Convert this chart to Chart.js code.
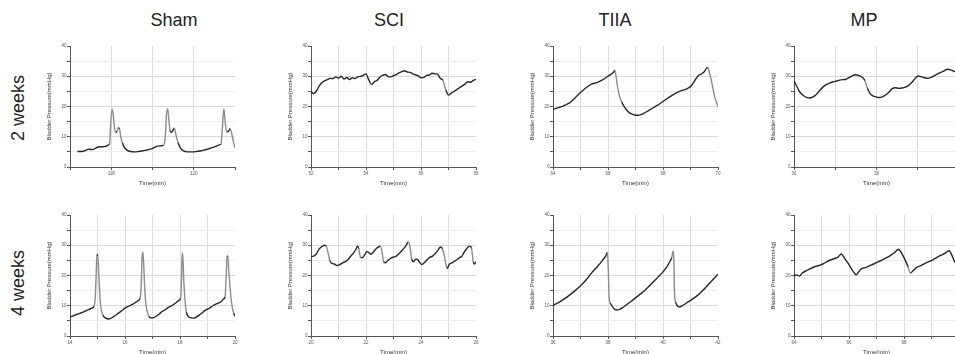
<!DOCTYPE html>
<html>
<head>
<meta charset="utf-8">
<script src="https://cdn.jsdelivr.net/npm/chart.js@4.4.0/dist/chart.umd.min.js"></script>
<style>
  html, body { margin: 0; padding: 0; width: 955px; height: 354px; overflow: hidden; background: #fff; }
  body { position: relative; font-family: 'Liberation Sans', Arial, sans-serif; }
  canvas { position: absolute; }
  .head { position: absolute; top: 10.5px; width: 100px; text-align: center; font-size: 18px; line-height: 18px; color: #222; }
  .row { position: absolute; font-size: 18px; line-height: 18px; color: #222; white-space: nowrap;
         transform: translate(-50%, -50%) rotate(-90deg); }
</style>
</head>
<body>
<div class="head" style="left:124px">Sham</div>
<div class="head" style="left:339px">SCI</div>
<div class="head" style="left:565px">TIIA</div>
<div class="head" style="left:814px">MP</div>
<div class="row" style="left:17.8px; top:107.5px">2 weeks</div>
<div class="row" style="left:17.8px; top:283px">4 weeks</div>

<script>
// tick labels
const yTicks = [0, 10, 20, 30, 40];
const groups = ['Sham', 'SCI', 'TIIA', 'MP'];

// Sham, 2 weeks
const shamW2Time = [
  117.18, 117.25, 117.32, 117.38, 117.45, 117.50, 117.56, 117.62, 117.68, 117.74,
  117.80, 117.86, 117.92, 117.96, 117.99, 118.02, 118.05, 118.08, 118.11, 118.14,
  118.17, 118.20, 118.23, 118.27, 118.32, 118.38, 118.45, 118.55, 118.65, 118.75,
  118.85, 118.95, 119.05, 119.12, 119.20, 119.27, 119.31, 119.34, 119.37, 119.40,
  119.43, 119.46, 119.50, 119.53, 119.57, 119.62, 119.68, 119.75, 119.85, 119.95,
  120.05, 120.15, 120.25, 120.35, 120.45, 120.55, 120.62, 120.66, 120.69, 120.73,
  120.76, 120.80, 120.84, 120.88, 120.92, 120.96, 121.00
];
const shamW2Pressure = [
  5.1, 5.1, 5.2, 5.5, 5.9, 5.8, 5.8, 6.2, 6.6, 6.7,
  6.7, 6.8, 7.2, 7.8, 15.0, 19.2, 17.0, 13.0, 11.4, 11.8,
  13.0, 12.6, 10.0, 8.0, 6.4, 5.6, 5.2, 5.0, 5.1, 5.3,
  5.6, 5.9, 6.5, 6.9, 7.0, 7.3, 10.0, 17.5, 19.3, 15.0,
  12.0, 11.5, 12.2, 12.8, 10.5, 8.0, 6.2, 5.3, 5.0, 5.0,
  5.1, 5.3, 5.6, 6.0, 6.4, 6.9, 7.3, 7.6, 12.0, 19.3,
  15.0, 11.6, 11.8, 12.7, 11.0, 8.5, 6.3
];

// SCI, 2 weeks
const sciW2Time = [
  52.0, 52.1, 52.2, 52.3, 52.4, 52.5, 52.6, 52.7, 52.8, 52.9,
  53.0, 53.1, 53.2, 53.3, 53.4, 53.5, 53.6, 53.7, 53.8, 53.9,
  54.0, 54.1, 54.2, 54.3, 54.4, 54.5, 54.6, 54.7, 54.8, 54.9,
  55.0, 55.1, 55.2, 55.3, 55.4, 55.5, 55.6, 55.7, 55.8, 55.9,
  56.0, 56.1, 56.2, 56.3, 56.4, 56.5, 56.6, 56.7, 56.8, 56.9,
  57.0, 57.1, 57.2, 57.3, 57.4, 57.5, 57.6, 57.7, 57.8, 57.9,
  58.0
];
const sciW2Pressure = [
  24.8, 24.3, 25.2, 26.8, 27.9, 28.5, 28.9, 29.3, 29.2, 29.8,
  29.4, 30.0, 29.1, 29.6, 28.9, 29.5, 29.2, 29.8, 29.9, 30.3,
  30.8, 28.8, 27.3, 28.2, 28.6, 29.7, 30.3, 30.6, 29.9, 29.8,
  30.2, 30.5, 31.1, 31.5, 31.8, 31.4, 31.3, 30.8, 30.5, 30.1,
  29.5, 29.6, 30.3, 30.4, 31.0, 30.8, 30.7, 29.3, 28.6, 25.5,
  23.8, 24.4, 25.0, 25.6, 26.2, 26.8, 27.4, 28.2, 28.0, 28.6,
  29.0
];

// TIIA, 2 weeks
const tiiaW2Time = [
  64.0, 64.2, 64.4, 64.6, 64.8, 65.0, 65.2, 65.4, 65.6, 65.8,
  66.0, 66.1, 66.2, 66.25, 66.3, 66.35, 66.4, 66.5, 66.6, 66.7,
  66.8, 66.9, 67.0, 67.1, 67.2, 67.3, 67.5, 67.7, 67.9, 68.1,
  68.3, 68.5, 68.7, 68.9, 69.0, 69.1, 69.2, 69.3, 69.4, 69.5,
  69.58, 69.63, 69.68, 69.76, 69.88, 70.0
];
const tiiaW2Pressure = [
  19.0, 19.6, 20.3, 21.2, 22.8, 24.6, 26.2, 27.4, 27.9, 28.8,
  30.0, 30.6, 31.3, 32.0, 29.5, 26.5, 24.0, 21.5, 19.8, 18.6,
  17.8, 17.4, 17.1, 17.1, 17.3, 17.7, 18.8, 19.9, 21.0, 22.3,
  23.5, 24.6, 25.3, 26.0, 26.6, 27.8, 29.2, 30.3, 30.8, 31.5,
  32.6, 32.9, 31.5, 28.5, 23.2, 20.0
];

// MP, 2 weeks
const mpW2Time = [
  36.0, 36.07, 36.14, 36.22, 36.3, 36.38, 36.46, 36.54, 36.62, 36.7,
  36.78, 36.86, 36.94, 37.02, 37.1, 37.18, 37.26, 37.34, 37.42, 37.5,
  37.58, 37.66, 37.72, 37.78, 37.84, 37.9, 37.98, 38.06, 38.14, 38.22,
  38.3, 38.38, 38.46, 38.54, 38.62, 38.7, 38.78, 38.86, 38.94, 39.0,
  39.08, 39.16, 39.24, 39.32, 39.4, 39.48, 39.56, 39.64, 39.72, 39.8,
  39.88, 39.96
];
const mpW2Pressure = [
  28.4, 26.6, 24.8, 23.7, 23.0, 22.8, 23.2, 24.0, 25.2, 26.4,
  27.2, 27.7, 28.1, 28.4, 28.7, 28.9, 29.0, 29.6, 30.2, 30.5,
  30.2, 29.6, 28.5, 26.0, 24.4, 23.6, 23.2, 23.0, 23.2, 23.8,
  24.7, 25.9, 26.2, 26.0, 26.1, 26.4, 27.0, 28.0, 29.3, 30.1,
  29.9, 29.5, 29.3, 29.6, 30.2, 30.8, 31.3, 31.8, 32.3, 32.1,
  31.6, 31.3
];

// Sham, 4 weeks
const shamW4Time = [
  14.0, 14.1, 14.2, 14.3, 14.4, 14.5, 14.6, 14.7, 14.8, 14.87,
  14.92, 14.95, 14.98, 15.01, 15.04, 15.07, 15.1, 15.14, 15.2, 15.3,
  15.4, 15.5, 15.6, 15.7, 15.8, 15.9, 16.0, 16.1, 16.2, 16.3,
  16.4, 16.5, 16.55, 16.59, 16.62, 16.65, 16.68, 16.71, 16.75, 16.8,
  16.87, 16.95, 17.05, 17.15, 17.25, 17.35, 17.45, 17.55, 17.65, 17.75,
  17.85, 17.95, 18.02, 18.05, 18.08, 18.11, 18.14, 18.18, 18.23, 18.3,
  18.4, 18.5, 18.6, 18.7, 18.8, 18.9, 19.0, 19.1, 19.2, 19.3,
  19.4, 19.5, 19.58, 19.64, 19.68, 19.71, 19.74, 19.77, 19.8, 19.85,
  19.9, 19.95, 20.0
];
const shamW4Pressure = [
  6.3, 6.6, 7.0, 7.3, 7.6, 8.0, 8.4, 8.8, 9.2, 9.8,
  13.0, 20.0, 27.0, 26.5, 22.0, 16.0, 11.5, 8.5, 6.8, 5.9,
  5.6, 5.9, 6.5, 7.1, 7.8, 8.5, 9.2, 9.7, 10.1, 10.6,
  11.2, 11.8, 12.5, 17.0, 26.0, 27.8, 24.0, 17.0, 11.5, 8.3,
  6.5, 6.0, 6.1, 6.6, 7.3, 8.1, 8.6, 9.3, 9.8, 10.3,
  11.0, 11.7, 12.5, 17.0, 27.5, 25.0, 18.0, 12.0, 8.0, 6.5,
  6.0, 5.9, 6.3, 6.9, 7.6, 8.4, 8.9, 9.4, 10.0, 10.5,
  10.9, 11.4, 12.2, 13.0, 20.0, 26.0, 26.5, 22.0, 18.5, 13.0,
  9.5, 7.5, 6.5
];

// SCI, 4 weeks
const sciW4Time = [
  20.0, 20.1, 20.2, 20.3, 20.4, 20.5, 20.56, 20.62, 20.68, 20.76,
  20.85, 20.94, 21.05, 21.15, 21.25, 21.35, 21.45, 21.55, 21.63, 21.69,
  21.74, 21.8, 21.87, 21.95, 22.03, 22.1, 22.18, 22.27, 22.36, 22.45,
  22.52, 22.58, 22.64, 22.7, 22.8, 22.9, 23.0, 23.1, 23.2, 23.3,
  23.4, 23.48, 23.54, 23.6, 23.66, 23.73, 23.8, 23.87, 23.95, 24.03,
  24.12, 24.22, 24.32, 24.42, 24.52, 24.62, 24.7, 24.78, 24.84, 24.9,
  24.95, 25.02, 25.08, 25.18, 25.3, 25.4, 25.48, 25.56, 25.64, 25.72,
  25.78, 25.84, 25.9, 25.95, 26.0
];
const sciW4Pressure = [
  26.3, 26.4, 27.2, 28.8, 29.6, 30.0, 29.6, 27.5, 25.0, 24.0,
  23.8, 23.3, 23.6, 24.2, 24.6, 25.3, 26.4, 27.5, 28.6, 29.7,
  28.8, 26.0, 25.9, 26.8, 27.9, 27.6, 27.0, 27.8, 28.8, 29.4,
  29.8, 28.0, 24.6, 24.2, 25.0, 25.7, 26.1, 26.4, 27.2, 28.2,
  29.2, 30.3, 31.1, 29.5, 25.5, 24.5, 25.4, 25.3, 24.4, 23.6,
  24.2, 25.2, 26.0, 26.4, 27.3, 28.4, 29.4, 28.8, 27.0, 24.0,
  22.3, 23.6, 24.0, 24.5, 25.2, 25.9, 26.3, 27.6, 28.6, 29.5,
  29.7, 28.9, 24.5, 23.8, 24.6
];

// TIIA, 4 weeks
const tiiaW4Time = [
  36.0, 36.2, 36.4, 36.6, 36.8, 37.0, 37.2, 37.4, 37.6, 37.8,
  37.92, 37.98, 38.01, 38.04, 38.08, 38.14, 38.22, 38.3, 38.42, 38.55,
  38.7, 38.85, 39.0, 39.2, 39.4, 39.6, 39.8, 40.0, 40.15, 40.26,
  40.32, 40.36, 40.39, 40.42, 40.46, 40.52, 40.6, 40.7, 40.85, 41.0,
  41.2, 41.4, 41.6, 41.8, 42.0
];
const tiiaW4Pressure = [
  10.2, 11.0, 12.2, 13.5, 15.0, 16.6, 18.5, 20.8, 22.8, 25.0,
  26.5, 27.6, 22.0, 13.0, 11.0, 10.0, 9.0, 8.6, 8.8, 9.5,
  10.5, 11.5, 12.6, 14.0, 15.6, 17.4, 19.3, 21.2, 23.0, 24.8,
  26.0, 28.0, 26.5, 14.0, 11.2, 10.0, 9.6, 10.0, 10.9, 11.8,
  13.0, 14.6, 16.5, 18.5, 20.4
];

// MP, 4 weeks
const mpW4Time = [
  64.0, 64.1, 64.2, 64.3, 64.45, 64.6, 64.75, 64.9, 65.05, 65.2,
  65.35, 65.5, 65.6, 65.72, 65.85, 66.0, 66.12, 66.27, 66.35, 66.45,
  66.6, 66.75, 66.9, 67.05, 67.2, 67.35, 67.5, 67.65, 67.8, 67.92,
  68.05, 68.15, 68.23, 68.33, 68.45, 68.6, 68.75, 68.9, 69.05, 69.2,
  69.35, 69.5, 69.64, 69.75, 69.84, 69.95
];
const mpW4Pressure = [
  20.0, 20.2, 19.8, 20.8, 21.6, 22.3, 22.9, 23.3, 23.8, 24.6,
  25.2, 25.7, 26.1, 27.1, 25.5, 23.6, 21.8, 20.2, 21.2, 22.2,
  22.6, 23.2, 23.8, 24.5, 25.1, 25.8, 26.6, 27.5, 28.7, 27.2,
  25.0, 22.8, 20.8, 21.6, 22.6, 23.2, 23.9, 24.6, 25.2, 26.0,
  26.7, 27.4, 28.2, 26.5, 24.6, 23.5
];

// x ranges (min) of each panel, row by row
const xMin = [117, 52, 64, 36, 14, 20, 36, 64];
const xMax = [121, 58, 70, 40, 20, 26, 42, 70];

const panels = [
  [shamW2Time, shamW2Pressure], [sciW2Time, sciW2Pressure], [tiiaW2Time, tiiaW2Pressure], [mpW2Time, mpW2Pressure],
  [shamW4Time, shamW4Pressure], [sciW4Time, sciW4Pressure], [tiiaW4Time, tiiaW4Pressure], [mpW4Time, mpW4Pressure]
];

// plot-area placement
const axisLeft = [70, 311, 553, 794];
const plotTop = [46, 215];
const plotW = 165, plotH = 121;
const yAxisW = 30, xAxisH = 22, padTop = 5, padRight = 6;

Chart.defaults.font.family = "'Liberation Sans', Arial, sans-serif";

function makePanel(i) {
  const col = i % 4, row = Math.floor(i / 4);
  const [time, pressure] = panels[i];
  const canvas = document.createElement('canvas');
  canvas.width = yAxisW + plotW + padRight;
  canvas.height = padTop + plotH + xAxisH;
  canvas.style.left = (axisLeft[col] - yAxisW) + 'px';
  canvas.style.top = (plotTop[row] - padTop) + 'px';
  document.body.appendChild(canvas);

  new Chart(canvas, {
    type: 'line',
    data: {
      datasets: [{
        data: time.map((t, k) => ({ x: t, y: pressure[k] })),
        borderColor: '#262626',
        borderWidth: 1.4,
        pointRadius: 0,
        cubicInterpolationMode: 'monotone',
        segment: {
          // steep strokes look lighter in the original trace
          borderColor: ctx => {
            const dx = ctx.p1.x - ctx.p0.x;
            const dy = Math.abs(ctx.p1.y - ctx.p0.y);
            return dy / Math.max(dx, 0.1) > 2.5 ? '#8c8c8c' : '#262626';
          }
        }
      }]
    },
    options: {
      responsive: false,
      animation: false,
      devicePixelRatio: 1,
      layout: { padding: { top: padTop, right: padRight, left: 0, bottom: 0 } },
      plugins: { legend: { display: false }, tooltip: { enabled: false } },
      scales: {
        x: {
          type: 'linear',
          min: xMin[i],
          max: xMax[i],
          afterFit: s => { s.height = xAxisH; },
          border: { display: true, color: '#555', width: 1 },
          grid: {
            color: c => (c.tick && c.tick.value === xMax[i]) ? 'rgba(0,0,0,0)' : '#dedede',
            tickColor: '#555',
            tickLength: 3,
            lineWidth: 1
          },
          ticks: {
            stepSize: 1,
            autoSkip: false,
            maxRotation: 0,
            padding: 1.5,
            color: '#555',
            font: { size: 4.5 },
            callback: v => (v % 2 === 0 ? v : '')
          },
          title: {
            display: true,
            text: 'Time(min)',
            color: '#333',
            font: { size: 6 },
            padding: { top: 0, bottom: 2 }
          }
        },
        y: {
          min: 0,
          max: 40,
          afterFit: s => { s.width = yAxisW; },
          border: { display: true, color: '#555', width: 1 },
          grid: {
            color: c => {
              const v = c.tick ? c.tick.value : 0;
              if (v === 40 || v === 0) return 'rgba(0,0,0,0)';
              return yTicks.includes(v) ? '#d9d9d9' : '#eeeeee';
            },
            tickColor: '#555',
            tickLength: 3,
            lineWidth: 1
          },
          ticks: {
            stepSize: 5,
            padding: 0.5,
            color: '#555',
            font: { size: 4.5 },
            callback: v => (yTicks.includes(v) ? v : '')
          },
          title: {
            display: true,
            text: 'Bladder Pressure(mmHg)',
            color: '#333',
            font: { size: 6 },
            padding: { top: 5.7, bottom: 0 }
          }
        }
      }
    }
  });
}

for (let i = 0; i < panels.length; i++) makePanel(i);
</script>
</body>
</html>
